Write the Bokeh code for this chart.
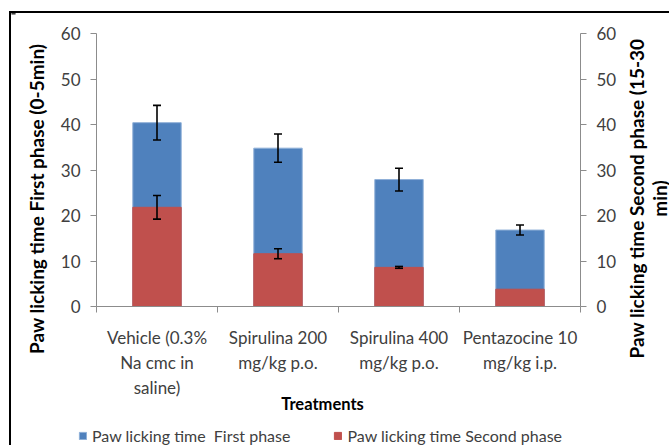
import math
import numpy as np
from bokeh.plotting import figure
from bokeh.models import (Range1d, LinearAxis, FixedTicker, ColumnDataSource,
                          Whisker, TeeHead, Legend, LegendItem, Label)
from bokeh.embed import file_html
from bokeh.resources import INLINE

categories = ["Vehicle (0.3%\nNa cmc in\nsaline)", "Spirulina 200\nmg/kg p.o.",
              "Spirulina 400\nmg/kg p.o.", "Pentazocine 10\nmg/kg i.p."]
first_phase = [40.4, 34.8, 27.9, 16.8]
first_err = [3.8, 3.1, 2.5, 1.1]
second_phase = [21.8, 11.6, 8.6, 3.8]
second_err = [2.6, 1.1, 0.2, float("nan")]
y_ticks = [0, 10, 20, 30, 40, 50, 60]
x_title = "Treatments"
left_title = "Paw licking time  First phase (0-5min)"
right_title = "Paw licking time Second phase (15-30\nmin)"
legend_labels = ["Paw licking time  First phase", "Paw licking time Second phase"]

FONT = "Lato"
BLUE = "#4F81BD"
RED = "#C0504D"
GRAY_TXT = "#404040"
AXIS_COL = "#8c8c8c"

W, H = 660, 434
# frame covers the whole canvas; axes sit at fixed places inside it
XPX = 121.0   # px per category
YPX = 4.55    # px per unit
FL, FB, FT, FR = 85, 141, 20, 91   # room around the value area
x_rng = (-FL / XPX, len(categories) + FR / XPX)
y_rng = (-FB / YPX, 60 + FT / YPX)

x = np.arange(len(categories)) + 0.5
bounds = list(range(len(categories) + 1))

p = figure(width=W, height=H, output_backend="svg", toolbar_location=None,
           x_range=Range1d(*x_rng), y_range=Range1d(*y_rng), min_border=0)
p.extra_y_ranges = {"right": Range1d(*y_rng)}
p.styles = {"border-left": "2px solid black", "border-top": "2px solid black",
            "margin-left": "9px", "margin-top": "11px"}
p.outline_line_color = None
p.xgrid.visible = False
p.ygrid.visible = False
p.background_fill_color = "white"
p.border_fill_color = "white"

src1 = ColumnDataSource(dict(x=x, top=first_phase,
                             upper=np.array(first_phase) + np.array(first_err),
                             lower=np.array(first_phase) - np.array(first_err)))
src2 = ColumnDataSource(dict(x=x, top=second_phase,
                             upper=np.array(second_phase) + np.array(second_err),
                             lower=np.array(second_phase) - np.array(second_err)))

r1 = p.vbar(x="x", top="top", width=0.4, source=src1, fill_color=BLUE, line_color="#8fb0d8", line_width=1)
r2 = p.vbar(x="x", top="top", width=0.4, source=src2, fill_color=RED, line_color=RED,
            y_range_name="right")
for src, rn in [(src1, "default"), (src2, "right")]:
    w = Whisker(base="x", upper="upper", lower="lower", source=src, line_color="black", line_width=1.6,
                upper_head=TeeHead(size=8, line_color="black", line_width=1.6),
                lower_head=TeeHead(size=8, line_color="black", line_width=1.6),
                y_range_name=rn, level="overlay")
    p.add_layout(w)

# x axis
xa = p.xaxis[0]
xa.fixed_location = 0
xa.bounds = (0, len(categories))
xa.ticker = FixedTicker(ticks=list(x), minor_ticks=bounds)
xa.major_label_overrides = {float(xi): c for xi, c in zip(x, categories)}
xa.major_tick_out = 0
xa.major_tick_in = 0
xa.minor_tick_out = 6
xa.minor_tick_in = 0
xa.major_label_text_font = FONT
xa.major_label_text_font_size = "17px"
xa.major_label_text_color = GRAY_TXT
xa.major_label_standoff = 14
xa.axis_line_color = AXIS_COL
xa.minor_tick_line_color = AXIS_COL

ya = p.yaxis[0]
ya.fixed_location = 0
ra = LinearAxis(y_range_name="right", fixed_location=len(categories))
p.add_layout(ra, "right")
for ax in [ya, ra]:
    ax.ticker = FixedTicker(ticks=y_ticks)
    ax.bounds = (0, 60)
    ax.major_tick_out = 6
    ax.major_tick_in = 0
    ax.minor_tick_line_color = None
    ax.major_label_standoff = 10
    ax.major_label_text_font = FONT
    ax.major_label_text_font_size = "17px"
    ax.major_label_text_color = GRAY_TXT
    ax.axis_line_color = AXIS_COL
    ax.major_tick_line_color = AXIS_COL

# axis titles (the original centres them on the whole chart area)
for txt, sx, sy, ang, sz in [(left_title, 25, 251, math.pi / 2, "19px"),
                             (right_title, 636, 249, math.pi / 2, "19px"),
                             (x_title, 311, 44, 0, "16.5px")]:
    p.add_layout(Label(x=sx, y=sy, x_units="screen", y_units="screen", text=txt, angle=ang,
                       text_align="center", text_baseline="middle", text_font=FONT,
                       text_font_style="bold", text_font_size=sz, text_color="black",
                       text_line_height=1.0, level="overlay"))

legend = Legend(items=[LegendItem(label=legend_labels[0], renderers=[r1]),
                       LegendItem(label=legend_labels[1], renderers=[r2])],
                orientation="horizontal", location=(67, 2), level="overlay",
                glyph_width=9, glyph_height=9, label_standoff=5, spacing=43,
                padding=0, margin=0, border_line_color=None, background_fill_alpha=0,
                label_text_font=FONT, label_text_font_size="16px", label_text_color=GRAY_TXT,
                label_height=20)
p.add_layout(legend)

open("out.html", "w").write(file_html(p, INLINE))
